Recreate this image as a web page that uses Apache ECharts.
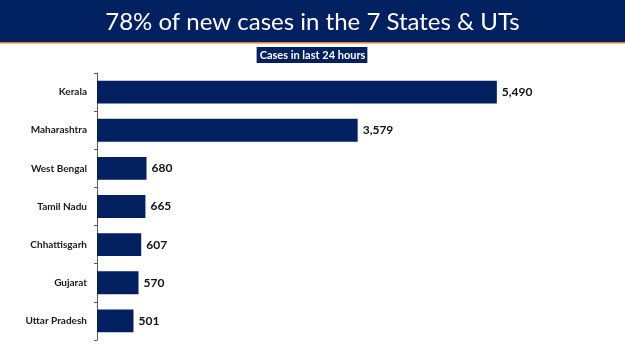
<!DOCTYPE html>
<html><head><meta charset="utf-8">
<script src="https://cdn.jsdelivr.net/npm/echarts@6/dist/echarts.min.js"></script>
<style>html,body{margin:0;padding:0;background:#fff}#c{width:625px;height:351px}</style>
</head><body><div id="c"></div>
<script>
const categories = ['Kerala','Maharashtra','West Bengal','Tamil Nadu','Chhattisgarh','Gujarat','Uttar Pradesh'];
const cases = [5490, 3579, 680, 665, 607, 570, 501];
const titleText = '78% of new cases in the 7 States & UTs';
const subtitleText = 'Cases in last 24 hours';

const chart = echarts.init(document.getElementById('c'), null, {renderer:'canvas'});
chart.setOption({
  backgroundColor:'#ffffff',
  animation:false,
  graphic:[
    {type:'rect', shape:{x:0,y:0,width:625,height:42}, style:{fill:'#002060'}, z:0},
    {type:'rect', shape:{x:0,y:42,width:625,height:1.5}, style:{fill:'#e07b39'}, z:0}
  ],
  title:[
    {text:titleText, left:'center', top:5, textStyle:{color:'#ffffff', fontFamily:'Lato', fontWeight:'normal', fontSize:24}},
    {text:subtitleText, left:'center', top:47, padding:[2,2,2,3], backgroundColor:'#002060',
     textStyle:{color:'#ffffff', fontFamily:'Lato', fontWeight:'bold', fontSize:11, lineHeight:12}}
  ],
  grid:{left:97, right:91, top:73, bottom:11, containLabel:false},
  xAxis:{type:'value', min:0, max:6000, show:false},
  yAxis:{type:'category', data:categories, inverse:true,
    axisLine:{show:true, lineStyle:{color:'#595959', width:1}},
    axisTick:{show:true, length:3, lineStyle:{color:'#595959'}},
    axisLabel:{color:'#1a1a1a', fontFamily:'Lato', fontWeight:'bold', fontSize:10, margin:10}
  },
  series:[{type:'bar', data:cases, barWidth:'60%',
    itemStyle:{color:'#002060'},
    label:{show:true, position:'right', distance:5, color:'#111', fontFamily:'Lato', fontWeight:'bold', fontSize:12,
      formatter:p=>p.value.toLocaleString('en-US')}
  }]
});
</script></body></html>
